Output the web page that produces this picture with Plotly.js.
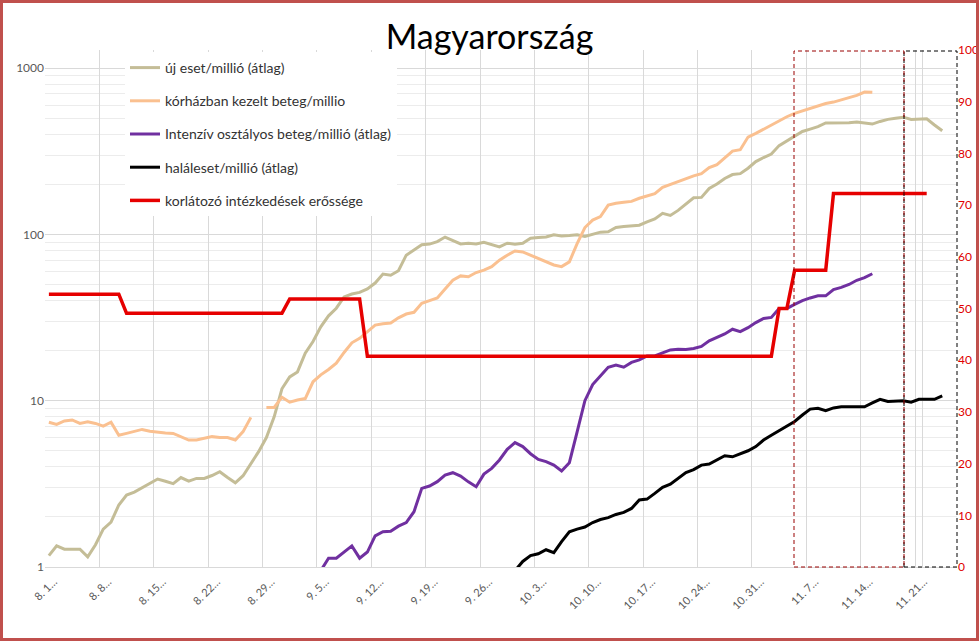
<!DOCTYPE html>
<html><head><meta charset="utf-8">
<script src="https://cdn.plot.ly/plotly-3.0.1.min.js"></script>
<style>html,body{margin:0;padding:0;background:#fff}#chart{width:979px;height:641px}</style>
</head><body><div id="chart"></div>
<script>
// ---- categories (daily, 2020-08-01 .. 2020-11-25) ----
const startMonth = 8, startDay = 1, nDays = 117;
const monthLen = {8:31, 9:30, 10:31, 11:30};
const categories = [];
(function(){ let m = startMonth, d = startDay;
  for (let i = 0; i < nDays; i++) { categories.push(m + '. ' + d + '.'); d++; if (d > monthLen[m]) { d = 1; m++; } }
})();
const tickIndex = [0,7,14,21,28,35,42,49,56,63,70,77,84,91,98,105,112];
const tickLabels = ['8. 1…','8. 8…','8. 15…','8. 22…','8. 29…','9. 5…','9. 12…','9. 19…','9. 26…',
  '10. 3…','10. 10…','10. 17…','10. 24…','10. 31…','11. 7…','11. 14…','11. 21…'];

// ---- series ----
const newCases = [1.17,1.34,1.28,1.28,1.28,1.15,1.36,1.69,1.86,2.36,
 2.71,2.82,3.0,3.2,3.38,3.28,3.17,3.45,3.28,3.41,
 3.41,3.55,3.74,3.45,3.21,3.54,4.2,4.94,6.0,8.0,
 11.8,13.9,14.9,19.3,22.7,27.8,32.4,36.0,42.1,43.8,
 44.8,47,51,57.8,56.8,60.5,75,81,86.7,87.5,
 90.5,96.4,91.7,87.6,88.5,87.6,89.8,87.2,84.1,88.5,
 87.2,88.5,94.8,95.7,96.5,99.5,98,98.4,99.5,97.3,
 100.4,103.2,103.8,110,111.6,112.5,113.6,119,124,134,
 130,139.5,153,166,167,189,201,217,229,232,
 250,274,290,304,342,365,390,416,430,445,
 468,468,468,470,475,468,461,478,492,500,
 507,491,494,496,455,420,null];

const hospital = [7.42,7.2,7.55,7.66,7.3,7.46,7.3,7.04,7.42,6.2,
 6.36,6.52,6.72,6.55,6.45,6.4,6.36,6.1,5.8,5.8,
 5.95,6.08,6.0,6.0,5.8,6.52,7.94,null,9.1,9.1,
 10.5,9.8,10.1,10.3,13,14.3,15.4,16.8,19.5,22.3,
 23.7,26,28.5,29,29.3,31.5,33.2,34,38.5,40,
 41.5,47,53,56.3,55.6,59,61,64,70,75,
 79.5,78.5,75,72,68.4,65.5,64,68.4,88,110,
 122,128,150,154,156,158,165,171,176,192,
 200,208,218,225,232,252,263,290,317,323,
 385,405,430,455,483,510,535,555,575,595,
 613,625,645,665,685,718,715,
 null,null,null,null,null,null,null,null,null,null];

const icu = [null,null,null,null,null,null,null,null,null,null,
 null,null,null,null,null,null,null,null,null,null,
 null,null,null,null,null,null,null,null,null,null,
 null,null,null,null,null,
 0.95,1.13,1.13,1.23,1.34,1.13,1.23,1.54,1.63,1.64,
 1.76,1.85,2.15,2.97,3.07,3.26,3.57,3.69,3.52,3.25,
 3.04,3.62,3.92,4.4,5.1,5.6,5.3,4.8,4.44,4.3,
 4.1,3.78,4.24,6.5,10.0,12.5,14.2,15.9,16.4,15.9,
 17.0,17.6,18.6,18.6,19.4,20.2,20.4,20.3,20.6,21.2,
 22.9,24,25.2,26.9,26,27.5,29.5,31.2,31.7,35.9,
 35.9,38,40,41.5,42.7,42.7,46.6,48,50,53,
 55,58,
 null,null,null,null,null,null,null,null,null,null];

const deaths = [null,null,null,null,null,null,null,null,null,null,
 null,null,null,null,null,null,null,null,null,null,
 null,null,null,null,null,null,null,null,null,null,
 null,null,null,null,null,null,null,null,null,null,
 null,null,null,null,null,null,null,null,null,null,
 null,null,null,null,null,null,null,null,null,null,
 0.95,1.08,1.17,1.2,1.27,1.22,1.42,1.63,1.69,1.74,
 1.85,1.93,1.98,2.07,2.13,2.25,2.53,2.56,2.77,3.01,
 3.15,3.4,3.7,3.85,4.1,4.16,4.4,4.67,4.6,4.8,
 5.0,5.3,5.8,6.2,6.6,7.04,7.5,8.2,8.9,9.0,
 8.7,9.05,9.2,9.2,9.2,9.2,9.7,10.2,9.9,9.9,
 10.0,9.8,10.2,10.2,10.2,10.7,null];

const stringency = [52.78,52.78,52.78,52.78,52.78,52.78,52.78,52.78,52.78,52.78,
 49.07,49.07,49.07,49.07,49.07,49.07,49.07,49.07,49.07,49.07,
 49.07,49.07,49.07,49.07,49.07,49.07,49.07,49.07,49.07,49.07,49.07,
 51.85,51.85,51.85,51.85,51.85,51.85,51.85,51.85,51.85,51.85,
 40.74,40.74,40.74,40.74,40.74,40.74,40.74,40.74,40.74,40.74,
 40.74,40.74,40.74,40.74,40.74,40.74,40.74,40.74,40.74,40.74,
 40.74,40.74,40.74,40.74,40.74,40.74,40.74,40.74,40.74,40.74,
 40.74,40.74,40.74,40.74,40.74,40.74,40.74,40.74,40.74,40.74,
 40.74,40.74,40.74,40.74,40.74,40.74,40.74,40.74,40.74,40.74,
 40.74,40.74,40.74,
 50,50,
 57.41,57.41,57.41,57.41,57.41,
 72.22,72.22,72.22,72.22,72.22,72.22,72.22,72.22,72.22,72.22,72.22,72.22,72.22,
 null,null,null];

const seriesNames = ['új eset/millió (átlag)','kórházban kezelt beteg/millio',
 'Intenzív osztályos beteg/millió (átlag)','haláleset/millió (átlag)','korlátozó intézkedések erőssége'];
const seriesColors = ['#C4BD97','#FAC090','#7030A0','#000000','#E60000'];

const tickCats = tickIndex.map(i => categories[i]);

function tr(y, k, extra) {
  return Object.assign({x: categories, y: y, type: 'scatter', mode: 'lines', name: seriesNames[k],
    legendgroup: 'g' + k, line: {color: seriesColors[k], width: 3}, connectgaps: false,
    hoverinfo: 'skip'}, extra || {});
}
const data = [
  tr(newCases, 0), tr(hospital, 1), tr(icu, 2), tr(deaths, 3),
  tr(stringency, 4, {yaxis: 'y2', line: {color: seriesColors[4], width: 3.5}})
];

const W = 979, H = 641, M = {l: 45, r: 22, t: 50, b: 74};
const pw = W - M.l - M.r, ph = H - M.t - M.b;
const minorVals = [];
[1,10,100].forEach(b => { for (let k = 2; k <= 9; k++) minorVals.push(b*k); });

const layout = {
  width: W, height: H, margin: {l: M.l, r: M.r, t: M.t, b: M.b, pad: 0},
  paper_bgcolor: '#fff', plot_bgcolor: '#fff',
  font: {family: 'Lato, "Open Sans", sans-serif', color: '#595959'},
  title: {text: 'Magyarország', font: {size: 34, color: '#000', family: 'Lato, sans-serif'},
    x: 0.5, xref: 'container', xanchor: 'center', y: 1 - 37 / H, yref: 'container', yanchor: 'middle'},
  showlegend: true,
  xaxis: {type: 'category', range: [-0.5, 116.9], tickson: 'boundaries', tickmode: 'array',
    tickvals: tickCats, ticktext: tickLabels, tickangle: -45, showgrid: true, gridcolor: '#D9D9D9',
    gridwidth: 1, showline: true, linecolor: '#D9D9D9', linewidth: 1, ticks: '', zeroline: false,
    ticklabelshift: 5, ticklabelstandoff: 3,
    tickfont: {size: 11, color: '#595959'}},
  yaxis: {type: 'log', range: [0, 3.109], tickmode: 'array', tickvals: [1,10,100,1000],
    ticktext: ['1','10','100','1000'], showgrid: true, gridcolor: '#D9D9D9', gridwidth: 1,
    minor: {showgrid: true, gridcolor: '#ECECEC', tickmode: 'array', tickvals: minorVals, ticks: ''},
    ticks: '', showline: false, zeroline: false, tickfont: {size: 12, color: '#595959'}},
  yaxis2: {overlaying: 'y', side: 'right', range: [0, 100], tickmode: 'linear', tick0: 0, dtick: 10,
    showgrid: false, zeroline: false, showline: false, ticks: '', tickfont: {size: 12, color: '#E00000'}},
  legend: {x: (125 - M.l) / pw, y: 1 - 2 / ph, xanchor: 'left', yanchor: 'top', bgcolor: '#fff',
    font: {size: 14, color: '#333'}, tracegroupgap: 12, traceorder: 'grouped'},
  shapes: [
    {type: 'rect', xref: 'paper', yref: 'paper', x0: (904 - M.l) / pw, x1: 1, y0: 0, y1: 1 - 1 / ph,
      line: {color: '#000', width: 1, dash: '4px,3px'}},
    {type: 'rect', xref: 'paper', yref: 'paper', x0: (794 - M.l) / pw, x1: (904 - M.l) / pw, y0: 0, y1: 1 - 1 / ph,
      line: {color: '#990000', width: 1, dash: '4px,3px'}},
    {type: 'rect', xref: 'paper', yref: 'paper', x0: -(M.l - 1.5) / pw, x1: 1 + (M.r - 1.5) / pw,
      y0: -(M.b - 1.5) / ph, y1: 1 + (M.t - 1.5) / ph, line: {color: '#C0504D', width: 3}}
  ]
};
Plotly.newPlot('chart', data, layout, {displayModeBar: false, staticPlot: true});
</script></body></html>
